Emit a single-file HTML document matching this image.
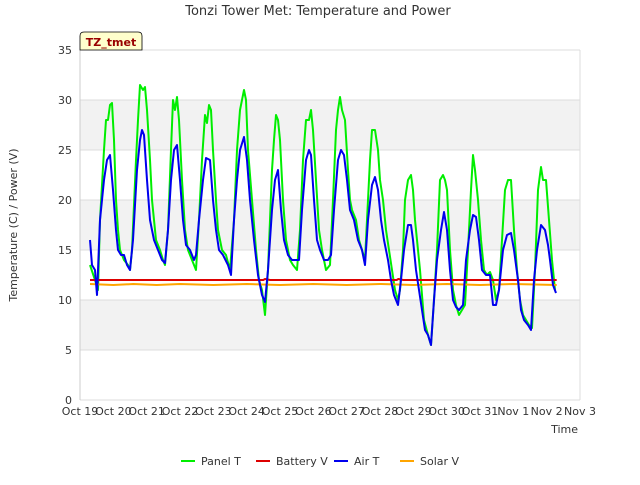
<!DOCTYPE html>
<html><head><meta charset="utf-8"><style>
body{margin:0;background:#fff;font-family:"Liberation Sans","DejaVu Sans",sans-serif;}
</style></head><body>
<svg width="640" height="480" viewBox="0 0 640 480" xmlns="http://www.w3.org/2000/svg" font-family="DejaVu Sans, Liberation Sans, sans-serif">
<text x="318" y="15" text-anchor="middle" font-size="13" fill="#333">Tonzi Tower Met: Temperature and Power</text>
<rect x="80" y="50" width="500" height="350" fill="#fff"/>
<g id="bands"></g>
<g id="grid"></g>
<g id="axes" font-size="11" fill="#333"></g>
<text x="17" y="225" transform="rotate(-90 17 225)" text-anchor="middle" font-size="11" fill="#333">Temperature (C) / Power (V)</text>
<text x="578" y="433" text-anchor="end" font-size="11" fill="#333">Time</text>
<g id="series"></g>
<g>
<path d="M80,50 L80,36 Q80,32 84,32 L138,32 Q142,32 142,36 L142,50 Z" fill="#ffffcc" stroke="#000" stroke-width="0.8"/>
<text x="111" y="46" text-anchor="middle" font-size="11" font-weight="bold" fill="#990000">TZ_tmet</text>
</g>
<g id="legend" font-size="11" fill="#333"></g>
</svg>
<script>
const yTicks=[0,5,10,15,20,25,30,35];
const xTickLabels=["Oct 19","Oct 20","Oct 21","Oct 22","Oct 23","Oct 24","Oct 25","Oct 26","Oct 27","Oct 28","Oct 29","Oct 30","Oct 31","Nov 1","Nov 2","Nov 3"];
const seriesNames=["Panel T","Battery V","Air T","Solar V"];
const seriesColors=["#00ee00","#dd0000","#0000ee","#ffa500"];
const panelT=[[0.30,13.5],[0.45,12],[0.54,11],[0.60,18],[0.72,25],[0.78,28],[0.84,28],[0.90,29.5],[0.96,29.7],[1.02,26],[1.08,20],[1.14,17],[1.20,15],[1.26,14.5],[1.32,14],[1.44,13.5],[1.50,13],[1.56,15],[1.68,24],[1.74,28],[1.80,31.5],[1.89,31],[1.95,31.3],[2.01,29],[2.10,24],[2.16,20],[2.22,18],[2.28,16],[2.40,15],[2.49,14],[2.55,13.5],[2.64,17],[2.73,25],[2.79,30],[2.85,29],[2.91,30.3],[2.97,28],[3.06,22],[3.15,17],[3.24,15],[3.36,14],[3.48,13],[3.57,18],[3.66,24],[3.75,28.5],[3.81,27.7],[3.87,29.5],[3.93,29],[3.99,25],[4.08,20],[4.14,17],[4.26,15],[4.38,14.5],[4.50,13],[4.62,18],[4.71,25],[4.80,29],[4.86,30],[4.92,31],[4.98,30],[5.04,25],[5.16,20],[5.28,15],[5.37,12],[5.46,11],[5.55,8.5],[5.64,13],[5.76,23],[5.82,26],[5.88,28.5],[5.94,28],[6.00,26],[6.09,20],[6.18,16],[6.30,14],[6.39,13.5],[6.51,13],[6.60,17],[6.69,24],[6.78,28],[6.87,28],[6.93,29],[6.99,27],[7.08,22],[7.17,17],[7.26,15],[7.38,13],[7.50,13.5],[7.59,20],[7.68,27],[7.74,29],[7.80,30.3],[7.86,29],[7.95,28],[8.04,23],[8.10,20],[8.16,19],[8.28,18],[8.37,16],[8.46,15],[8.55,14],[8.61,18],[8.70,24],[8.76,27],[8.85,27],[8.94,25],[9.00,22],[9.09,20],[9.18,17],[9.27,15],[9.36,13],[9.45,11],[9.54,10],[9.60,11],[9.69,15],[9.75,20],[9.84,22],[9.93,22.5],[9.99,21],[10.05,18],[10.14,15],[10.20,13],[10.32,8],[10.44,6.5],[10.53,5.5],[10.62,10],[10.71,15],[10.80,22],[10.89,22.5],[10.95,22],[11.01,21],[11.10,15],[11.19,11],[11.28,9.5],[11.37,8.5],[11.46,9],[11.55,9.5],[11.64,15],[11.73,21],[11.79,24.5],[11.85,23],[11.94,20],[12.03,16],[12.12,13],[12.21,12.5],[12.30,12.8],[12.39,12],[12.48,10],[12.57,11],[12.66,16],[12.75,21],[12.84,22],[12.93,22],[13.02,17],[13.11,13],[13.20,10],[13.29,8.5],[13.38,8],[13.47,7.5],[13.56,7.2],[13.65,13],[13.74,21],[13.83,23.3],[13.89,22],[13.98,22],[14.07,18],[14.16,14],[14.25,11]];
const airT=[[0.30,16],[0.36,13.5],[0.45,13],[0.51,10.5],[0.60,18],[0.72,22],[0.81,24],[0.90,24.5],[0.99,21],[1.08,17],[1.14,15],[1.23,14.5],[1.32,14.5],[1.41,13.5],[1.50,13],[1.59,16],[1.71,23],[1.80,26],[1.86,27],[1.92,26.5],[2.01,22],[2.10,18],[2.22,16],[2.34,15],[2.46,14],[2.55,13.7],[2.64,17],[2.73,22],[2.82,25],[2.91,25.5],[3.00,22],[3.09,18],[3.18,15.5],[3.30,15],[3.42,14],[3.48,14.5],[3.57,18],[3.69,22],[3.78,24.2],[3.90,24],[3.99,20],[4.08,17],[4.17,15],[4.29,14.5],[4.44,13.5],[4.53,12.5],[4.62,18],[4.71,22],[4.80,25],[4.92,26.3],[5.01,24],[5.10,20],[5.22,16],[5.34,12.5],[5.46,10.5],[5.55,9.8],[5.64,13],[5.76,19],[5.85,22],[5.94,23],[6.03,19],[6.12,16],[6.24,14.5],[6.36,14],[6.48,14],[6.57,14],[6.66,19],[6.78,24],[6.87,25],[6.93,24.5],[7.02,20],[7.11,16],[7.20,15],[7.32,14],[7.44,14],[7.53,14.5],[7.62,19],[7.74,24],[7.83,25],[7.92,24.5],[8.01,22],[8.10,19],[8.22,18],[8.34,16],[8.46,15],[8.55,13.5],[8.64,18],[8.76,21.5],[8.85,22.3],[8.94,21],[9.03,18],[9.12,16],[9.24,14],[9.33,12],[9.42,10.5],[9.54,9.5],[9.63,12],[9.72,15],[9.84,17.5],[9.93,17.5],[9.99,16],[10.08,13],[10.17,11],[10.26,9],[10.35,7],[10.44,6.5],[10.53,5.5],[10.62,10],[10.71,14],[10.83,17],[10.92,18.8],[11.01,17],[11.10,13],[11.19,10],[11.28,9.3],[11.37,9],[11.49,9.5],[11.58,14],[11.70,17],[11.79,18.5],[11.88,18.3],[11.97,16],[12.06,13],[12.18,12.5],[12.30,12.5],[12.39,9.5],[12.48,9.5],[12.57,11],[12.69,15],[12.81,16.5],[12.93,16.7],[13.02,15],[13.14,12],[13.23,9],[13.32,8],[13.44,7.5],[13.53,7],[13.62,12],[13.71,15],[13.83,17.5],[13.95,17],[14.04,15.5],[14.10,14],[14.19,11.5],[14.28,10.7]];
const batteryV=[[0.30,12],[5.5,12],[5.55,12.1],[5.7,12],[9.5,12],[9.55,12.1],[9.7,12],[14.3,12]];
const solarV=[[0.30,11.6],[1.0,11.5],[1.6,11.6],[2.3,11.5],[3.0,11.6],[4.0,11.5],[5.0,11.6],[6.0,11.5],[7.0,11.6],[8.0,11.5],[9.0,11.6],[10.0,11.5],[11.0,11.6],[12.0,11.5],[13.0,11.6],[14.3,11.5]];

const X0=80,X1=580,Y0=400,Y1=50,XMAX=15,YMAX=35;
const sx=t=>X0+t*(X1-X0)/XMAX;
const sy=v=>Y0-v*(Y0-Y1)/YMAX;
const NS="http://www.w3.org/2000/svg";
function mk(tag,attrs,parent){const e=document.createElementNS(NS,tag);for(const k in attrs)e.setAttribute(k,attrs[k]);parent.appendChild(e);return e;}
const bands=document.getElementById('bands'),grid=document.getElementById('grid'),axes=document.getElementById('axes'),series=document.getElementById('series'),legend=document.getElementById('legend');
for(let i=0;i<yTicks.length-1;i++){
  if(i%2===1){const r=mk('rect',{x:X0,y:sy(yTicks[i+1]),width:X1-X0,height:sy(yTicks[i])-sy(yTicks[i+1]),fill:'#f2f2f2'},bands);
  
  }
}
yTicks.forEach(v=>{
  const l=mk('line',{x1:X0,x2:X1,y1:sy(v),y2:sy(v),stroke:'#dcdcdc','stroke-width':1},grid);
  
  
  const t=mk('text',{x:X0-8,y:sy(v)+4,'text-anchor':'end'},axes);t.textContent=v;
  
  
});
mk('line',{x1:X1,x2:X1,y1:Y1,y2:Y0,stroke:'#dcdcdc'},grid);
mk('line',{x1:X0,x2:X0,y1:Y1,y2:Y0,stroke:'#ccc'},grid);
xTickLabels.forEach((s,i)=>{
  const t=mk('text',{x:sx(i),y:Y0+15,'text-anchor':'middle'},axes);t.textContent=s;
  
  
});
const allData=[panelT,batteryV,airT,solarV];
const order=[0,1,3,2];
order.forEach(i=>{
  const d=allData[i].map((p,j)=>(j?'L':'M')+sx(p[0]).toFixed(1)+','+sy(p[1]).toFixed(1)).join(' ');
  const p=mk('path',{d:d,fill:'none',stroke:seriesColors[i],'stroke-width':2,'stroke-linejoin':'round'},series);
  
  
});
const lx=[181,256,334,400];
seriesNames.forEach((n,i)=>{
  const g=mk('g',{},legend);
  
  
  mk('line',{x1:lx[i],x2:lx[i]+14,y1:461,y2:461,stroke:seriesColors[i],'stroke-width':2},g);
  const t=mk('text',{x:lx[i]+20,y:465},g);t.textContent=n;
});
</script>
</body></html>
